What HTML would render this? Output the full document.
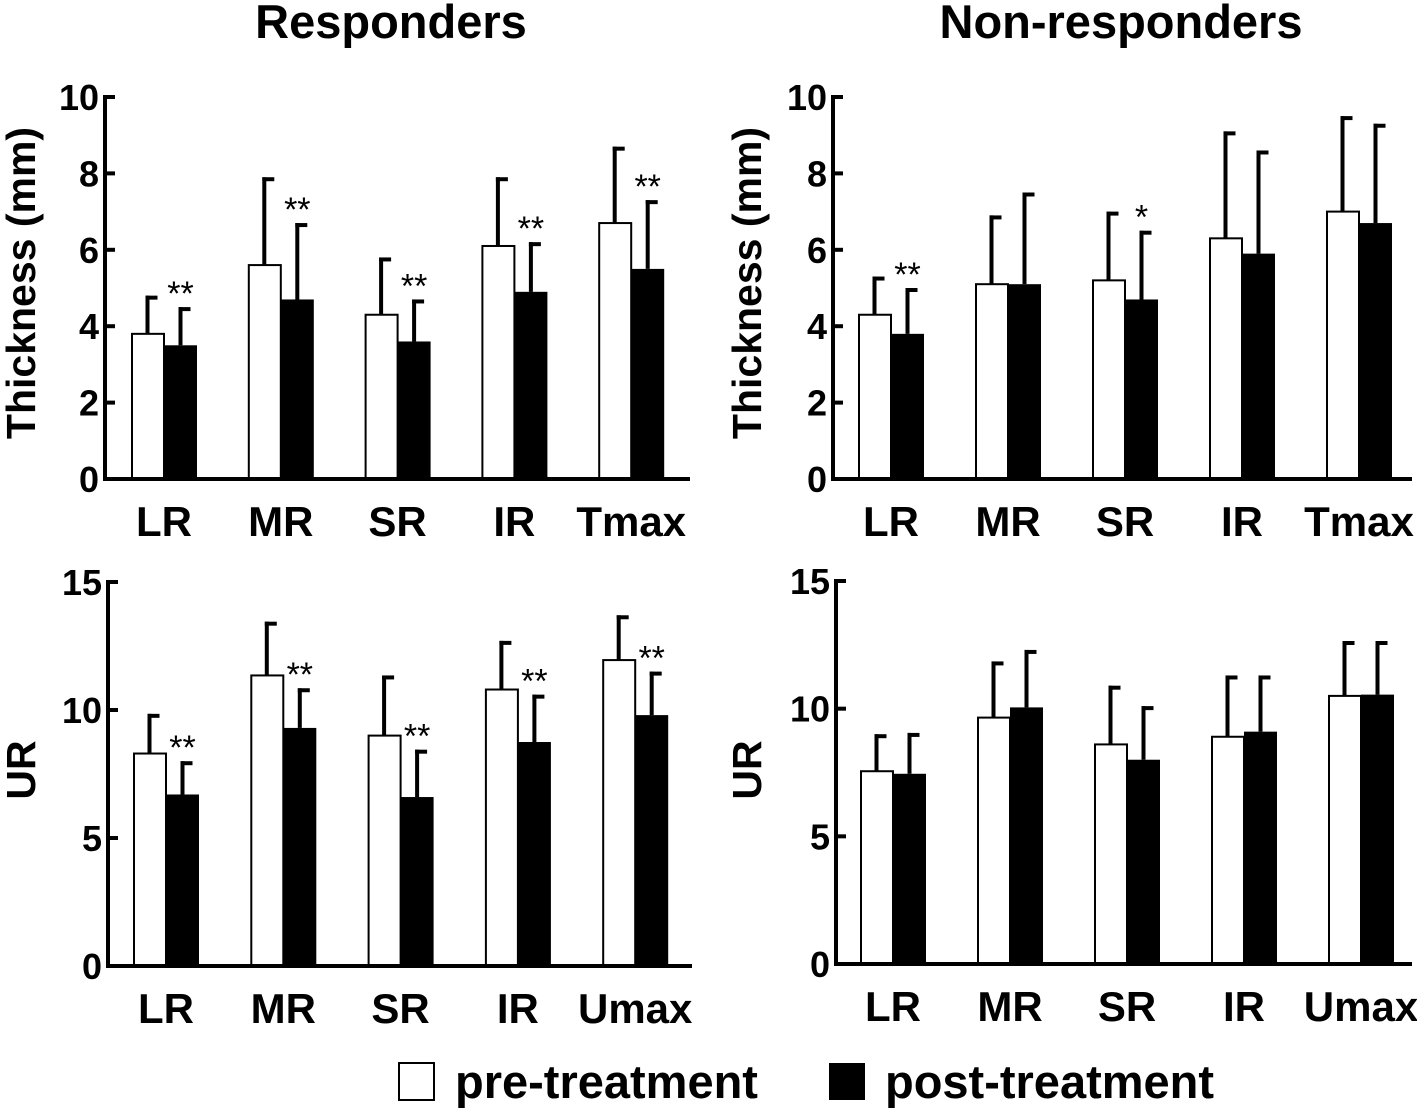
<!DOCTYPE html>
<html><head><meta charset="utf-8"><style>
html,body{margin:0;padding:0;background:#fff;}
svg{display:block;font-family:"Liberation Sans",Arial,sans-serif;font-weight:bold;}
</style></head><body>
<svg id="fig" width="1417" height="1111" viewBox="0 0 1417 1111">
<text x="391" y="38" font-size="47" text-anchor="middle">Responders</text>
<text x="1121" y="38" font-size="47" text-anchor="middle">Non-responders</text>
<text transform="translate(35,283) rotate(-90)" font-size="41" text-anchor="middle">Thickness (mm)</text>
<text transform="translate(761,283) rotate(-90)" font-size="41" text-anchor="middle">Thickness (mm)</text>
<text transform="translate(35,770) rotate(-90)" font-size="41" text-anchor="middle">UR</text>
<text transform="translate(761,770) rotate(-90)" font-size="41" text-anchor="middle">UR</text>
<rect x="399" y="1063" width="35" height="37" fill="#fff" stroke="#000" stroke-width="2"/>
<text x="455" y="1098" font-size="47">pre-treatment</text>
<rect x="829" y="1063" width="36" height="37" fill="#000"/>
<text x="885" y="1098" font-size="47">post-treatment</text>
</svg>
<script>
const catsT = ["LR","MR","SR","IR","Tmax"];
const catsU = ["LR","MR","SR","IR","Umax"];
const tlPre = [3.8,5.6,4.3,6.1,6.7];
const tlPreTop = [4.8,7.9,5.8,7.9,8.7];
const tlPost = [3.5,4.7,3.6,4.9,5.5];
const tlPostTop = [4.5,6.7,4.7,6.2,7.3];
const tlStars = ["**","**","**","**","**"];
const blPre = [8.3,11.35,9.0,10.8,11.95];
const blPreTop = [9.85,13.45,11.35,12.7,13.7];
const blPost = [6.7,9.3,6.6,8.75,9.8];
const blPostTop = [8.0,10.85,8.45,10.6,11.5];
const blStars = ["**","**","**","**","**"];
const trPre = [4.3,5.1,5.2,6.3,7.0];
const trPreTop = [5.3,6.9,7.0,9.1,9.5];
const trPost = [3.8,5.1,4.7,5.9,6.7];
const trPostTop = [5.0,7.5,6.5,8.6,9.3];
const trStars = ["**","","*","",""];
const brPre = [7.55,9.65,8.6,8.9,10.5];
const brPreTop = [9.0,11.85,10.9,11.3,12.65];
const brPost = [7.45,10.05,8.0,9.1,10.55];
const brPostTop = [9.05,12.3,10.1,11.3,12.65];
const brStars = ["","","","",""];
const ticksT = [0,2,4,6,8,10];
const ticksU = [0,5,10,15];

const NS="http://www.w3.org/2000/svg";
const svg=document.getElementById('fig');
function mk(tag,attrs,parent){const e=document.createElementNS(NS,tag);for(const k in attrs)e.setAttribute(k,attrs[k]);(parent||svg).appendChild(e);return e;}

function panel(id,cfg,cats,pre,preTop,post,postTop,stars,ticks){
  const g=mk('g',{});
  
  
  const max=ticks[ticks.length-1];
  const y=v=>cfg.y0-(cfg.y0-cfg.yTop)*v/max;
  const bw=33;
  const bx=(i,s)=>cfg.first+i*cfg.step+s*bw;
  cats.forEach((c,i)=>{
    [[pre,preTop,0],[post,postTop,1]].forEach(([vals,tops,s])=>{
      const x=bx(i,s), cx=x+bw/2;
      const eb=mk('line',{x1:cx,x2:cx,y1:y(vals[i]),y2:y(tops[i]),stroke:'#000','stroke-width':4},g);
      
      
      const cap=mk('line',{x1:cx-2,x2:cx+10,y1:y(tops[i])+2,y2:y(tops[i])+2,stroke:'#000','stroke-width':4},g);
      
      
      const r=mk('rect',{x:x+(s?0:1),y:y(vals[i]),width:bw-(s?0:1),height:cfg.y0-y(vals[i]),fill:s?'#000':'#fff',stroke:'#000','stroke-width':s?0:2},g);
      
      
    });
    if(stars[i]){
      const t=mk('text',{x:bx(i,1)+bw/2,y:y(postTop[i])-2,'font-size':34,'font-weight':'normal','text-anchor':'middle'},g);
      t.textContent=stars[i];
      
      
    }
    const lb=mk('text',{x:cfg.first+i*cfg.step+bw,y:cfg.y0+57,'font-size':42,'text-anchor':'middle'},g);
    lb.textContent=c;
    
    
  });
  const ax=mk('line',{x1:cfg.ax,x2:cfg.ax,y1:cfg.yTop-2,y2:cfg.y0+2,stroke:'#000','stroke-width':4},g);
  
  
  const xa=mk('line',{x1:cfg.ax-2,x2:cfg.end,y1:cfg.y0,y2:cfg.y0,stroke:'#000','stroke-width':4},g);
  
  
  ticks.forEach(t=>{
    const tk=mk('line',{x1:cfg.ax,x2:cfg.ax+10,y1:y(t),y2:y(t),stroke:'#000','stroke-width':4},g);
    
    
    const tl=mk('text',{x:cfg.ax-6,y:y(t)+13,'font-size':36,'text-anchor':'end'},g);
    tl.textContent=t;
    
    
  });
}
panel('responders-thickness',{ax:105,y0:479,yTop:97,first:131,step:116.8,end:690},catsT,tlPre,tlPreTop,tlPost,tlPostTop,tlStars,ticksT);
panel('responders-ur',{ax:108,y0:966,yTop:582,first:133,step:117.3,end:692},catsU,blPre,blPreTop,blPost,blPostTop,blStars,ticksU);
panel('nonresponders-thickness',{ax:833,y0:479,yTop:97,first:858,step:117,end:1412},catsT,trPre,trPreTop,trPost,trPostTop,trStars,ticksT);
panel('nonresponders-ur',{ax:836,y0:964,yTop:581,first:860,step:117,end:1412},catsU,brPre,brPreTop,brPost,brPostTop,brStars,ticksU);
</script>
</body></html>
